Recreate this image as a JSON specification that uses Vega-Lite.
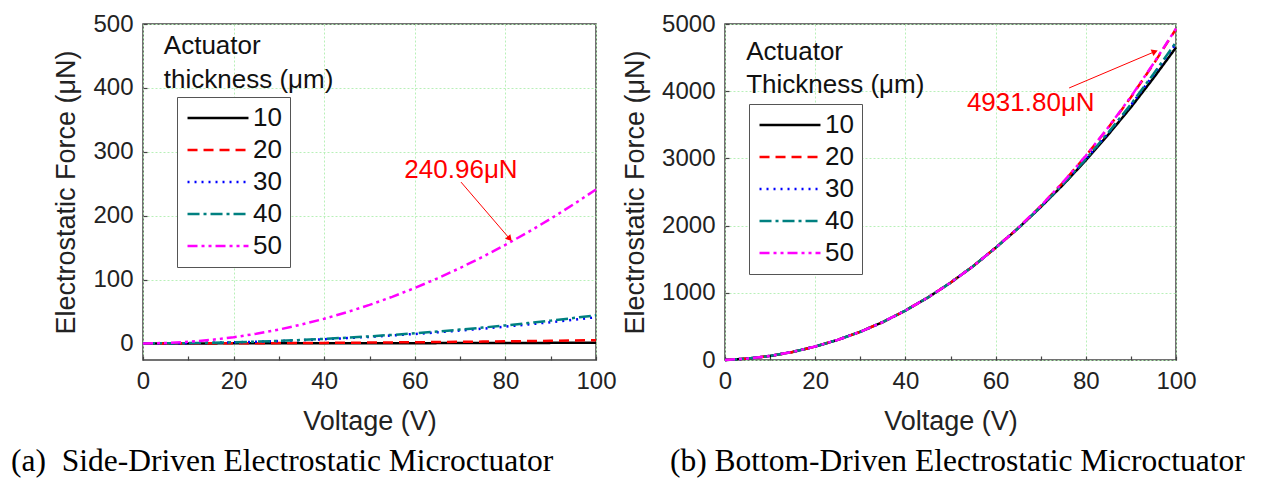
{
  "$schema": "https://vega.github.io/schema/vega-lite/v6.json",
  "padding": {"left": 10, "top": 11, "right": 0, "bottom": 0},
  "spacing": 3,
  "datasets": {
    "L": [
      {"V":0,"F":0,"t":"10"},{"V":5,"F":0,"t":"10"},{"V":10,"F":0.01,"t":"10"},{"V":15,"F":0.02,"t":"10"},{"V":20,"F":0.04,"t":"10"},{"V":25,"F":0.06,"t":"10"},{"V":30,"F":0.09,"t":"10"},{"V":35,"F":0.12,"t":"10"},{"V":40,"F":0.16,"t":"10"},{"V":45,"F":0.2,"t":"10"},{"V":50,"F":0.25,"t":"10"},{"V":55,"F":0.3,"t":"10"},{"V":60,"F":0.36,"t":"10"},{"V":65,"F":0.42,"t":"10"},{"V":70,"F":0.49,"t":"10"},{"V":75,"F":0.56,"t":"10"},{"V":80,"F":0.64,"t":"10"},{"V":85,"F":0.72,"t":"10"},{"V":90,"F":0.81,"t":"10"},{"V":95,"F":0.9,"t":"10"},{"V":100,"F":1.0,"t":"10"},
      {"V":0,"F":0,"t":"20"},{"V":5,"F":0.01,"t":"20"},{"V":10,"F":0.05,"t":"20"},{"V":15,"F":0.11,"t":"20"},{"V":20,"F":0.2,"t":"20"},{"V":25,"F":0.31,"t":"20"},{"V":30,"F":0.45,"t":"20"},{"V":35,"F":0.61,"t":"20"},{"V":40,"F":0.8,"t":"20"},{"V":45,"F":1.01,"t":"20"},{"V":50,"F":1.25,"t":"20"},{"V":55,"F":1.51,"t":"20"},{"V":60,"F":1.8,"t":"20"},{"V":65,"F":2.11,"t":"20"},{"V":70,"F":2.45,"t":"20"},{"V":75,"F":2.81,"t":"20"},{"V":80,"F":3.2,"t":"20"},{"V":85,"F":3.61,"t":"20"},{"V":90,"F":4.05,"t":"20"},{"V":95,"F":4.51,"t":"20"},{"V":100,"F":5.0,"t":"20"},
      {"V":0,"F":0,"t":"30"},{"V":5,"F":0.1,"t":"30"},{"V":10,"F":0.41,"t":"30"},{"V":15,"F":0.92,"t":"30"},{"V":20,"F":1.64,"t":"30"},{"V":25,"F":2.56,"t":"30"},{"V":30,"F":3.69,"t":"30"},{"V":35,"F":5.02,"t":"30"},{"V":40,"F":6.56,"t":"30"},{"V":45,"F":8.3,"t":"30"},{"V":50,"F":10.25,"t":"30"},{"V":55,"F":12.4,"t":"30"},{"V":60,"F":14.76,"t":"30"},{"V":65,"F":17.32,"t":"30"},{"V":70,"F":20.09,"t":"30"},{"V":75,"F":23.06,"t":"30"},{"V":80,"F":26.24,"t":"30"},{"V":85,"F":29.62,"t":"30"},{"V":90,"F":33.21,"t":"30"},{"V":95,"F":37.0,"t":"30"},{"V":100,"F":41.0,"t":"30"},
      {"V":0,"F":0,"t":"40"},{"V":5,"F":0.11,"t":"40"},{"V":10,"F":0.44,"t":"40"},{"V":15,"F":0.99,"t":"40"},{"V":20,"F":1.76,"t":"40"},{"V":25,"F":2.75,"t":"40"},{"V":30,"F":3.96,"t":"40"},{"V":35,"F":5.39,"t":"40"},{"V":40,"F":7.04,"t":"40"},{"V":45,"F":8.91,"t":"40"},{"V":50,"F":11.0,"t":"40"},{"V":55,"F":13.31,"t":"40"},{"V":60,"F":15.84,"t":"40"},{"V":65,"F":18.59,"t":"40"},{"V":70,"F":21.56,"t":"40"},{"V":75,"F":24.75,"t":"40"},{"V":80,"F":28.16,"t":"40"},{"V":85,"F":31.79,"t":"40"},{"V":90,"F":35.64,"t":"40"},{"V":95,"F":39.71,"t":"40"},{"V":100,"F":44.0,"t":"40"},
      {"V":0,"F":0,"t":"50"},{"V":5,"F":0.6,"t":"50"},{"V":10,"F":2.41,"t":"50"},{"V":15,"F":5.42,"t":"50"},{"V":20,"F":9.64,"t":"50"},{"V":25,"F":15.06,"t":"50"},{"V":30,"F":21.69,"t":"50"},{"V":35,"F":29.52,"t":"50"},{"V":40,"F":38.55,"t":"50"},{"V":45,"F":48.79,"t":"50"},{"V":50,"F":60.24,"t":"50"},{"V":55,"F":72.89,"t":"50"},{"V":60,"F":86.75,"t":"50"},{"V":65,"F":101.81,"t":"50"},{"V":70,"F":118.07,"t":"50"},{"V":75,"F":135.54,"t":"50"},{"V":80,"F":154.21,"t":"50"},{"V":85,"F":174.09,"t":"50"},{"V":90,"F":195.18,"t":"50"},{"V":95,"F":217.47,"t":"50"},{"V":100,"F":240.96,"t":"50"}
    ],
    "R": [
      {"V":0,"F":0,"t":"10"},{"V":5,"F":22,"t":"10"},{"V":10,"F":60,"t":"10"},{"V":15,"F":120,"t":"10"},{"V":20,"F":200,"t":"10"},{"V":25,"F":300,"t":"10"},{"V":30,"F":420,"t":"10"},{"V":35,"F":565,"t":"10"},{"V":40,"F":735,"t":"10"},{"V":45,"F":930,"t":"10"},{"V":50,"F":1150,"t":"10"},{"V":55,"F":1395,"t":"10"},{"V":60,"F":1670,"t":"10"},{"V":65,"F":1960,"t":"10"},{"V":70,"F":2275,"t":"10"},{"V":75,"F":2610,"t":"10"},{"V":80,"F":2970,"t":"10"},{"V":85,"F":3355,"t":"10"},{"V":90,"F":3760,"t":"10"},{"V":95,"F":4195,"t":"10"},{"V":100,"F":4650,"t":"10"},
      {"V":0,"F":0,"t":"20"},{"V":5,"F":22,"t":"20"},{"V":10,"F":60,"t":"20"},{"V":15,"F":120,"t":"20"},{"V":20,"F":200,"t":"20"},{"V":25,"F":300,"t":"20"},{"V":30,"F":420,"t":"20"},{"V":35,"F":565,"t":"20"},{"V":40,"F":735,"t":"20"},{"V":45,"F":930,"t":"20"},{"V":50,"F":1150,"t":"20"},{"V":55,"F":1395,"t":"20"},{"V":60,"F":1670,"t":"20"},{"V":65,"F":1964,"t":"20"},{"V":70,"F":2290,"t":"20"},{"V":75,"F":2645,"t":"20"},{"V":80,"F":3035,"t":"20"},{"V":85,"F":3458,"t":"20"},{"V":90,"F":3910,"t":"20"},{"V":95,"F":4402,"t":"20"},{"V":100,"F":4925,"t":"20"},
      {"V":0,"F":0,"t":"30"},{"V":5,"F":22,"t":"30"},{"V":10,"F":60,"t":"30"},{"V":15,"F":120,"t":"30"},{"V":20,"F":200,"t":"30"},{"V":25,"F":300,"t":"30"},{"V":30,"F":420,"t":"30"},{"V":35,"F":565,"t":"30"},{"V":40,"F":735,"t":"30"},{"V":45,"F":930,"t":"30"},{"V":50,"F":1150,"t":"30"},{"V":55,"F":1395,"t":"30"},{"V":60,"F":1670,"t":"30"},{"V":65,"F":1961,"t":"30"},{"V":70,"F":2279,"t":"30"},{"V":75,"F":2618,"t":"30"},{"V":80,"F":2985,"t":"30"},{"V":85,"F":3378,"t":"30"},{"V":90,"F":3794,"t":"30"},{"V":95,"F":4241,"t":"30"},{"V":100,"F":4710,"t":"30"},
      {"V":0,"F":0,"t":"40"},{"V":5,"F":22,"t":"40"},{"V":10,"F":60,"t":"40"},{"V":15,"F":120,"t":"40"},{"V":20,"F":200,"t":"40"},{"V":25,"F":300,"t":"40"},{"V":30,"F":420,"t":"40"},{"V":35,"F":565,"t":"40"},{"V":40,"F":735,"t":"40"},{"V":45,"F":930,"t":"40"},{"V":50,"F":1150,"t":"40"},{"V":55,"F":1395,"t":"40"},{"V":60,"F":1670,"t":"40"},{"V":65,"F":1961,"t":"40"},{"V":70,"F":2280,"t":"40"},{"V":75,"F":2621,"t":"40"},{"V":80,"F":2990,"t":"40"},{"V":85,"F":3386,"t":"40"},{"V":90,"F":3805,"t":"40"},{"V":95,"F":4256,"t":"40"},{"V":100,"F":4730,"t":"40"},
      {"V":0,"F":0,"t":"50"},{"V":5,"F":22,"t":"50"},{"V":10,"F":60,"t":"50"},{"V":15,"F":120,"t":"50"},{"V":20,"F":200,"t":"50"},{"V":25,"F":300,"t":"50"},{"V":30,"F":420,"t":"50"},{"V":35,"F":565,"t":"50"},{"V":40,"F":735,"t":"50"},{"V":45,"F":930,"t":"50"},{"V":50,"F":1150,"t":"50"},{"V":55,"F":1395,"t":"50"},{"V":60,"F":1670,"t":"50"},{"V":65,"F":1965,"t":"50"},{"V":70,"F":2293,"t":"50"},{"V":75,"F":2650,"t":"50"},{"V":80,"F":3040,"t":"50"},{"V":85,"F":3465,"t":"50"},{"V":90,"F":3918,"t":"50"},{"V":95,"F":4411,"t":"50"},{"V":100,"F":4932,"t":"50"}
    ],
    "LT": [{"x":4.6,"y":466,"label":"Actuator"},{"x":4.6,"y":413,"label":"thickness (μm)"}],
    "RT": [{"x":4.7,"y":4583,"label":"Actuator"},{"x":4.7,"y":4092,"label":"Thickness (μm)"}],
    "LA": [{"x":70.2,"y":271,"label":"240.96μN"}],
    "RA": [{"x":67.8,"y":3824,"label":"4931.80μN"}],
    "LR": [{"x":70.2,"y":252.5,"x2":80.8,"y2":165}],
    "RR": [{"x":76.3,"y":4048,"x2":95.1,"y2":4583}]
  },
  "hconcat": [
    {
      "width": 453, "height": 336,
      "title": {"text": "(a)\u00a0 Side-Driven Electrostatic Microctuator", "orient": "bottom", "anchor": "start", "frame": "group", "dx": -132, "offset": 12, "font": "Liberation Serif", "fontSize": 31.5, "fontWeight": "normal", "color": "#000"},
      "layer": [
        {
          "data": {"name": "L"},
          "mark": {"type": "line", "strokeWidth": 2.5},
          "encoding": {
            "x": {"field": "V", "type": "quantitative", "scale": {"domain": [0, 100], "nice": false}, "axis": {"title": "Voltage (V)", "values": [0,10,20,30,40,50,60,70,80,90,100], "labelExpr": "datum.value % 20 === 0 ? datum.label : ''", "gridOpacity": {"condition": {"test": "datum.value % 20 === 0", "value": 1}, "value": 0}}},
            "y": {"field": "F", "type": "quantitative", "scale": {"domain": [-26, 500], "nice": false, "zero": false}, "axis": {"title": "Electrostatic Force (μN)", "values": [0,50,100,150,200,250,300,350,400,450,500], "labelExpr": "datum.value % 100 === 0 ? datum.label : ''", "gridOpacity": {"condition": {"test": "datum.value % 100 === 0", "value": 1}, "value": 0}}},
            "color": {"field": "t", "type": "nominal", "scale": {"domain": ["10","20","30","40","50"], "range": ["#000000","#ff0000","#0000ff","#008080","#ff00ff"]}, "legend": {"orient": "none", "legendX": 34, "legendY": 73, "title": null}},
            "strokeDash": {"field": "t", "type": "nominal", "scale": {"domain": ["10","20","30","40","50"], "range": [[1,0],[10,6],[2,5],[12,4,3,4],[10,4,3,4,3,4]]}, "legend": {"orient": "none", "legendX": 34, "legendY": 73, "title": null}}
          }
        },
        {
          "data": {"name": "LT"},
          "mark": {"type": "text", "align": "left", "baseline": "middle", "fontSize": 26, "font": "Liberation Sans", "color": "#111"},
          "encoding": {"x": {"field": "x", "type": "quantitative"}, "y": {"field": "y", "type": "quantitative"}, "text": {"field": "label"}}
        },
        {
          "data": {"name": "LA"},
          "mark": {"type": "text", "align": "center", "baseline": "middle", "fontSize": 26, "font": "Liberation Sans", "color": "#ff0000"},
          "encoding": {"x": {"field": "x", "type": "quantitative"}, "y": {"field": "y", "type": "quantitative"}, "text": {"field": "label"}}
        },
        {
          "data": {"name": "LR"},
          "mark": {"type": "rule", "color": "#ff0000", "strokeWidth": 1},
          "encoding": {"x": {"field": "x", "type": "quantitative"}, "y": {"field": "y", "type": "quantitative"}, "x2": {"field": "x2"}, "y2": {"field": "y2"}}
        },
        {
          "data": {"name": "LR"},
          "mark": {"type": "point", "shape": "triangle", "filled": true, "color": "#ff0000", "size": 50, "angle": 139, "opacity": 1},
          "encoding": {"x": {"field": "x2", "type": "quantitative"}, "y": {"field": "y2", "type": "quantitative"}}
        }
      ]
    },
    {
      "width": 451, "height": 336,
      "title": {"text": "(b) Bottom-Driven Electrostatic Microctuator", "orient": "bottom", "anchor": "start", "frame": "group", "dx": -55, "offset": 12, "font": "Liberation Serif", "fontSize": 31.5, "fontWeight": "normal", "color": "#000"},
      "layer": [
        {
          "data": {"name": "R"},
          "mark": {"type": "line", "strokeWidth": 2.5},
          "encoding": {
            "x": {"field": "V", "type": "quantitative", "scale": {"domain": [0, 100], "nice": false}, "axis": {"title": "Voltage (V)", "values": [0,10,20,30,40,50,60,70,80,90,100], "labelExpr": "datum.value % 20 === 0 ? datum.label : ''", "gridOpacity": {"condition": {"test": "datum.value % 20 === 0", "value": 1}, "value": 0}}},
            "y": {"field": "F", "type": "quantitative", "scale": {"domain": [0, 5000], "nice": false}, "axis": {"title": "Electrostatic Force (μN)", "values": [0,500,1000,1500,2000,2500,3000,3500,4000,4500,5000], "labelExpr": "datum.value % 1000 === 0 ? datum.value : ''", "gridOpacity": {"condition": {"test": "datum.value % 1000 === 0", "value": 1}, "value": 0}}},
            "color": {"field": "t", "type": "nominal", "scale": {"domain": ["10","20","30","40","50"], "range": ["#000000","#ff0000","#0000ff","#008080","#ff00ff"]}, "legend": {"orient": "none", "legendX": 24, "legendY": 80, "title": null}},
            "strokeDash": {"field": "t", "type": "nominal", "scale": {"domain": ["10","20","30","40","50"], "range": [[1,0],[10,6],[2,5],[12,4,3,4],[10,4,3,4,3,4]]}, "legend": {"orient": "none", "legendX": 24, "legendY": 80, "title": null}}
          }
        },
        {
          "data": {"name": "RT"},
          "mark": {"type": "text", "align": "left", "baseline": "middle", "fontSize": 26, "font": "Liberation Sans", "color": "#111"},
          "encoding": {"x": {"field": "x", "type": "quantitative"}, "y": {"field": "y", "type": "quantitative"}, "text": {"field": "label"}}
        },
        {
          "data": {"name": "RA"},
          "mark": {"type": "text", "align": "center", "baseline": "middle", "fontSize": 26, "font": "Liberation Sans", "color": "#ff0000"},
          "encoding": {"x": {"field": "x", "type": "quantitative"}, "y": {"field": "y", "type": "quantitative"}, "text": {"field": "label"}}
        },
        {
          "data": {"name": "RR"},
          "mark": {"type": "rule", "color": "#ff0000", "strokeWidth": 1},
          "encoding": {"x": {"field": "x", "type": "quantitative"}, "y": {"field": "y", "type": "quantitative"}, "x2": {"field": "x2"}, "y2": {"field": "y2"}}
        },
        {
          "data": {"name": "RR"},
          "mark": {"type": "point", "shape": "triangle", "filled": true, "color": "#ff0000", "size": 50, "angle": 67, "opacity": 1},
          "encoding": {"x": {"field": "x2", "type": "quantitative"}, "y": {"field": "y2", "type": "quantitative"}}
        }
      ]
    }
  ],
  "resolve": {"scale": {"x": "independent", "y": "independent", "color": "independent", "strokeDash": "independent"}, "legend": {"color": "independent", "strokeDash": "independent"}},
  "config": {
    "font": "Liberation Sans",
    "view": {"stroke": "#444444", "strokeWidth": 1.5},
    "axis": {"domain": false, "labelFont": "Liberation Sans", "titleFont": "Liberation Sans", "labelFontSize": 24, "titleFontSize": 27, "titleFontWeight": "normal", "labelColor": "#222222", "titleColor": "#222222", "tickColor": "#444444", "tickSize": -4, "tickWidth": 1.2, "gridColor": "#b8f0b8", "gridDash": [2, 2], "gridWidth": 1, "labelFlush": false, "labelOverlap": false},
    "axisX": {"labelPadding": 13, "titlePadding": 15},
    "axisY": {"labelPadding": 14, "titlePadding": 12},
    "legend": {"strokeColor": "#555555", "padding": 8, "symbolType": "M-3,0H3", "symbolSize": 413, "symbolOffset": 20, "labelOffset": 22, "symbolStrokeWidth": 2.5, "labelFontSize": 26, "labelFont": "Liberation Sans", "labelColor": "#111111", "rowPadding": 6, "fillColor": "#ffffff"}
  }
}
